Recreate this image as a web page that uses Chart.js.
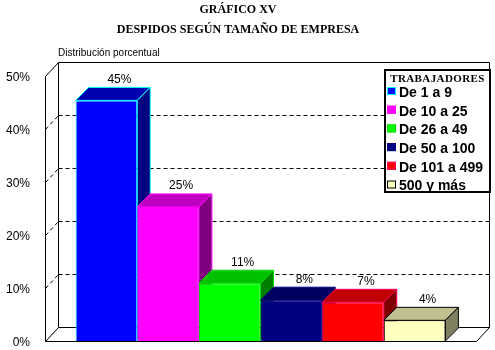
<!DOCTYPE html>
<html>
<head>
<meta charset="utf-8">
<script src="https://cdn.jsdelivr.net/npm/chart.js@4"></script>
<style>
  body { margin: 0; background: #fff; }
</style>
</head>
<body>
<canvas id="chart" width="495" height="350"></canvas>
<script>
// company size groups (one bar each)
const categories = ['De 1 a 9', 'De 10 a 25', 'De 26 a 49', 'De 50 a 100', 'De 101 a 499', '500 y más'];
const values = [45.4, 25.3, 10.9, 7.7, 7.3, 3.9];
const yTicks = [0, 10, 20, 30, 40, 50];

const frontColors = ['#0000ff', '#ff00ff', '#00ff00', '#000080', '#ff0000', '#ffffc0'];
const topColors = ['#0000b0', '#c000c0', '#00c000', '#000060', '#c00000', '#c0c090'];
const sideColors = ['#000080', '#800080', '#008000', '#000040', '#800000', '#808060'];
const edgeColors = ['#00ffff', '#ff00ff', '#00e000', '#000080', '#ff0066', '#000000'];

const DX = 13, DY = 14, BD = 13;

const walls3d = {
  id: 'walls3d',
  beforeDatasetsDraw(chart) {
    const { ctx, chartArea: a } = chart;
    const y = chart.scales.y;
    const top = y.getPixelForValue(yTicks[yTicks.length - 1]);
    const bot = y.getPixelForValue(0);
    ctx.save();
    ctx.strokeStyle = '#000';
    ctx.lineWidth = 1;
    const line = (pts, dash) => {
      ctx.setLineDash(dash || []);
      ctx.beginPath();
      ctx.moveTo(Math.round(pts[0][0]) + 0.5, Math.round(pts[0][1]) + 0.5);
      for (let i = 1; i < pts.length; i++) ctx.lineTo(Math.round(pts[i][0]) + 0.5, Math.round(pts[i][1]) + 0.5);
      ctx.stroke();
    };
    // dashed gridlines on back wall + left wall
    yTicks.slice(1, -1).forEach(v => {
      const py = y.getPixelForValue(v);
      line([[a.left + DX, py - DY], [a.right + DX, py - DY]], [4, 3]);
      line([[a.left, py], [a.left + DX, py - DY]], [4, 3]);
    });
    // back wall
    line([[a.left + DX, bot - DY], [a.left + DX, top - DY], [a.right + DX, top - DY], [a.right + DX, bot - DY], [a.left + DX, bot - DY]]);
    // left wall + floor
    line([[a.left + DX, top - DY], [a.left, top], [a.left, bot], [a.right, bot], [a.right + DX, bot - DY]]);
    line([[a.left, bot], [a.left + DX, bot - DY]]);

    // top and side faces of each bar
    chart.data.datasets.forEach((ds, i) => {
      const bar = chart.getDatasetMeta(i).data[0];
      const l = bar.x - bar.width / 2, r = bar.x + bar.width / 2;
      const t = bar.y, b = bar.base;
      ctx.setLineDash([]);
      ctx.strokeStyle = edgeColors[i];
      ctx.fillStyle = topColors[i];
      ctx.beginPath();
      ctx.moveTo(l, t); ctx.lineTo(r, t); ctx.lineTo(r + BD, t - BD); ctx.lineTo(l + BD, t - BD); ctx.closePath();
      ctx.fill(); ctx.stroke();
      ctx.fillStyle = sideColors[i];
      ctx.beginPath();
      ctx.moveTo(r, t); ctx.lineTo(r + BD, t - BD); ctx.lineTo(r + BD, b - BD); ctx.lineTo(r, b); ctx.closePath();
      ctx.fill(); ctx.stroke();
    });
    ctx.restore();
  },
  afterDatasetsDraw(chart) {
    const { ctx } = chart;
    ctx.save();
    ctx.fillStyle = '#000';
    ctx.font = '12px "Liberation Sans", Arial, sans-serif';
    ctx.textAlign = 'center';
    ctx.textBaseline = 'middle';
    chart.data.datasets.forEach((ds, i) => {
      const bar = chart.getDatasetMeta(i).data[0];
      ctx.fillText(Math.round(ds.data[0]) + '%', bar.x + 13, bar.y - 21);
    });
    ctx.restore();
  },
  afterDraw(chart) {
    const { ctx } = chart;
    ctx.save();
    ctx.fillStyle = '#000';
    ctx.textBaseline = 'middle';
    ctx.font = '10px "Liberation Sans", Arial, sans-serif';
    ctx.fillText('Distribución porcentual', 58, 53);

    // legend box
    const lx = 385, ly = 70, lw = 105, lh = 122;
    ctx.fillStyle = '#fff';
    ctx.fillRect(lx, ly, lw, lh);
    ctx.strokeStyle = '#000';
    ctx.lineWidth = 2;
    ctx.strokeRect(lx, ly, lw, lh);
    ctx.fillStyle = '#000';
    ctx.textAlign = 'center';
    ctx.font = 'bold 11px "Liberation Serif", "Times New Roman", serif';
    ctx.letterSpacing = '0.4px';
    ctx.fillText('TRABAJADORES', lx + lw / 2, 79);
    ctx.letterSpacing = '0px';
    ctx.textAlign = 'left';
    ctx.font = 'bold 14px "Liberation Sans", Arial, sans-serif';
    ctx.lineWidth = 1;
    chart.data.datasets.forEach((ds, i) => {
      const ry = 92 + i * 18.7;
      ctx.fillStyle = frontColors[i];
      ctx.fillRect(387, ry - 5, 9, 8);
      ctx.strokeStyle = edgeColors[i];
      ctx.strokeRect(387.5, ry - 4.5, 8, 7);
      ctx.fillStyle = '#000';
      ctx.fillText(ds.label, 399, ry + 1);
    });
    ctx.restore();
  }
};

new Chart(document.getElementById('chart'), {
  type: 'bar',
  data: {
    labels: [''],
    datasets: categories.map((c, i) => ({
      label: c,
      data: [values[i]],
      backgroundColor: frontColors[i],
      borderColor: edgeColors[i],
      borderWidth: 1,
      categoryPercentage: 0.858,
      barPercentage: 1
    }))
  },
  options: {
    responsive: false,
    animation: false,
    devicePixelRatio: 1,
    layout: { padding: { left: 0, right: 19, top: 0, bottom: 9 } },
    scales: {
      x: { display: false },
      y: {
        min: 0,
        max: 50,
        afterFit: s => { s.width = 45; s.paddingTop = 0; s.paddingBottom = 0; },
        grid: { display: false, drawTicks: false },
        border: { display: false },
        ticks: {
          stepSize: 10,
          padding: 15,
          labelOffset: 2,
          color: '#000',
          font: { family: '"Liberation Sans", Arial, sans-serif', size: 12 },
          callback: v => v + '%'
        }
      }
    },
    plugins: {
      legend: { display: false },
      tooltip: { enabled: false },
      title: {
        display: true,
        text: ['GRÁFICO XV', 'DESPIDOS SEGÚN TAMAÑO DE EMPRESA'],
        color: '#000',
        font: { family: '"Liberation Serif", "Times New Roman", serif', size: 12, weight: 'bold', lineHeight: '20px' },
        padding: { top: 0, bottom: 36 }
      }
    }
  },
  plugins: [walls3d]
});
</script>
</body>
</html>
